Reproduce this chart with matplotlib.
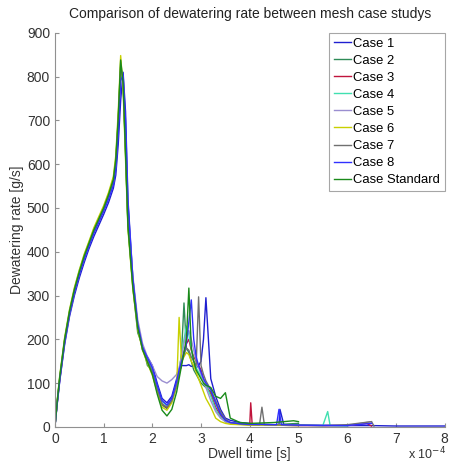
import numpy as np
import matplotlib.pyplot as plt

plt.rcParams['font.family'] = ['Liberation Sans', 'DejaVu Sans']

# ── Datos (tiempo en unidades de 1e-4 s) ─────────────────────────────────────
x_base = [0, 0.05, 0.1, 0.2, 0.3, 0.4, 0.5, 0.6, 0.7, 0.8, 0.9, 1.0, 1.1, 1.2,
          1.25, 1.3, 1.35, 1.4, 1.45, 1.5, 1.6, 1.7, 1.8, 1.9, 2.0, 2.1, 2.2,
          2.3, 2.4, 2.5, 2.55, 2.6, 2.65, 2.7, 2.75, 2.8, 2.85, 2.9, 2.95, 3.0,
          3.05, 3.1, 3.2, 3.3, 3.4, 3.5, 3.6, 3.8, 4.0]

case1 = [0, 55, 105, 188, 252, 300, 340, 375, 407, 435, 460, 485, 512, 545,
         575, 645, 745, 810, 720, 520, 340, 230, 175, 160, 140, 100, 65,
         55, 70, 110, 125, 140, 140, 140, 142, 138, 140, 135, 140, 150,
         200, 295, 110, 70, 40, 20, 15, 10, 8]
case2 = [0, 60, 112, 198, 262, 312, 352, 388, 418, 448, 473, 498, 528, 562,
         605, 700, 825, 790, 630, 460, 320, 215, 185, 140, 130, 85, 50,
         42, 58, 95, 120, 170, 283, 180, 170, 150, 130, 120, 110, 100,
         95, 90, 80, 55, 30, 15, 10, 8, 6]
case3 = [0, 58, 110, 196, 260, 310, 350, 386, 416, 446, 471, 496, 526, 560,
         600, 695, 815, 795, 640, 470, 330, 232, 182, 152, 128, 88, 52,
         44, 62, 98, 125, 150, 170, 190, 200, 175, 160, 150, 140, 130,
         110, 95, 75, 45, 25, 12, 8, 6, 5]
case4 = [0, 62, 116, 202, 266, 316, 357, 392, 422, 452, 477, 502, 532, 568,
         615, 710, 835, 780, 620, 455, 325, 228, 180, 155, 130, 92, 58,
         48, 62, 100, 130, 165, 200, 230, 210, 180, 150, 135, 125, 115,
         105, 95, 70, 40, 22, 12, 8, 6, 5]
case5 = [0, 57, 108, 193, 258, 308, 348, 383, 414, 443, 468, 493, 522, 555,
         595, 690, 810, 800, 660, 490, 345, 245, 190, 160, 140, 115, 105,
         100, 108, 120, 135, 160, 190, 215, 220, 200, 175, 150, 135, 120,
         105, 90, 60, 35, 20, 12, 8, 6, 5]
case6 = [0, 63, 118, 204, 268, 318, 358, 394, 424, 455, 480, 505, 535, 572,
         620, 720, 848, 770, 610, 450, 315, 222, 175, 145, 118, 80, 45,
         38, 55, 92, 250, 150, 160, 170, 165, 150, 140, 125, 110, 95,
         80, 65, 45, 20, 12, 8, 6, 5, 4]
case7 = [0, 59, 111, 197, 261, 311, 351, 387, 417, 447, 472, 497, 527, 561,
         603, 698, 822, 792, 635, 465, 328, 230, 180, 152, 127, 87, 52,
         45, 60, 96, 120, 145, 165, 180, 175, 160, 150, 140, 297, 140,
         120, 105, 85, 60, 35, 18, 10, 7, 5]
case8 = [0, 56, 107, 192, 257, 307, 347, 382, 413, 442, 467, 492, 520, 552,
         590, 670, 790, 805, 700, 510, 340, 235, 182, 158, 135, 95, 60,
         50, 65, 105, 130, 150, 170, 190, 240, 290, 200, 160, 140, 125,
         110, 100, 85, 55, 30, 15, 10, 7, 6]
case_std = [0, 61, 114, 200, 264, 314, 354, 390, 420, 450, 475, 500, 530, 565,
            610, 705, 838, 785, 625, 458, 318, 226, 176, 148, 120, 75, 38,
            25, 40, 80, 110, 140, 170, 200, 317, 180, 150, 130, 120, 110,
            100, 95, 90, 70, 65, 78, 20, 10, 8]

# colas de cada caso (después de x = 4)
tail_x = {
    "Case 1": [4.2, 4.5, 4.6, 4.62, 4.7, 5.0, 5.5, 6.0, 6.5, 7.0, 7.5, 8.0],
    "Case 2": [4.5, 5.0],
    "Case 3": [4.02, 4.05, 4.5, 5.0, 6.0, 6.4, 6.5],
    "Case 4": [4.5, 5.0, 5.5, 5.6, 5.65, 6.0],
    "Case 5": [4.5, 5.0, 6.0, 6.5],
    "Case 6": [4.5, 5.0],
    "Case 7": [4.2, 4.25, 4.3, 5.0, 5.5, 6.0, 6.5, 6.55],
    "Case 8": [4.55, 4.6, 4.65, 5.0, 6.0, 6.5],
    "Case Standard": [4.5, 4.9, 5.0],
}
tail_y = {
    "Case 1": [6, 5, 5, 40, 5, 4, 3, 3, 3, 2, 2, 2],
    "Case 2": [5, 8],
    "Case 3": [55, 5, 4, 3, 3, 8, 2],
    "Case 4": [4, 4, 3, 35, 3, 2],
    "Case 5": [4, 3, 3, 12],
    "Case 6": [4, 3],
    "Case 7": [5, 45, 5, 4, 3, 5, 12, 2],
    "Case 8": [5, 40, 5, 4, 3, 8],
    "Case Standard": [10, 14, 12],
}

nombres = ["Case 1", "Case 2", "Case 3", "Case 4", "Case 5", "Case 6",
           "Case 7", "Case 8", "Case Standard"]
series = [case1, case2, case3, case4, case5, case6, case7, case8, case_std]
colores = ["#1f1fd0", "#2e8b57", "#c0143c", "#40e0b0", "#9a8ed0",
           "#c8d000", "#707070", "#3030ff", "#1a8a1a"]

# ── Gráfico ──────────────────────────────────────────────────────────────────
fig = plt.figure(figsize=(4.5, 4.62), dpi=100, facecolor="white")
ax = fig.add_axes([0.122, 0.076, 0.866, 0.853])

for nombre, ys, c in zip(nombres, series, colores):
    xs = np.concatenate([x_base, tail_x[nombre]])
    yy = np.concatenate([ys, tail_y[nombre]])
    ax.plot(xs, yy, color=c, lw=1.0, label=nombre)

ax.set_xlim(0, 8)
ax.set_ylim(0, 900)
ax.set_xticks(range(0, 9))
ax.set_yticks(range(0, 901, 100))
for s in ["top", "right"]:
    ax.spines[s].set_visible(False)
for s in ["left", "bottom"]:
    ax.spines[s].set_color("#909090")
ax.tick_params(direction="in", length=3, colors="#909090", labelcolor="#333333",
               labelsize=10)

ax.set_xlabel("Dwell time [s]", fontsize=10, color="#333333", labelpad=1)
ax.set_ylabel("Dewatering rate [g/s]", fontsize=10, color="#333333", labelpad=2)
ax.set_title("Comparison of dewatering rate between mesh case studys",
             fontsize=10, color="#222222", pad=11)
fig.text(0.992, 0.0, r"x 10$^{-4}$", ha="right", va="bottom",
         fontsize=9, color="#333333")

leg = ax.legend(loc="upper right", fontsize=9.4, frameon=True, fancybox=False,
                borderaxespad=0.0, handlelength=1.3, handletextpad=0.2,
                labelspacing=0.38, borderpad=0.35)
leg.get_frame().set_edgecolor("#909090")
leg.get_frame().set_linewidth(0.8)

fig.savefig("out.png", dpi=100, facecolor="white")
